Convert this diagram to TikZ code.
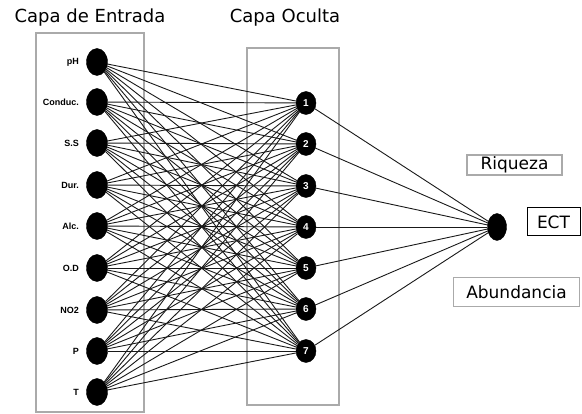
\documentclass[tikz,border=0pt]{standalone}
\usepackage{fontspec}
\setmainfont{DejaVu Sans}
\newfontfamily\labelfont{Liberation Sans}
\usepackage{xcolor}
\usetikzlibrary{shapes.geometric}

\definecolor{boxgray}{RGB}{170,170,170}
\definecolor{linkgray}{RGB}{25,25,25}

\begin{document}
\begin{tikzpicture}[
        x=1pt, y=-1pt,
        inp/.style={draw, ellipse, fill=black, inner sep=0pt, minimum width=21pt, minimum height=27pt},
        hid/.style={draw, ellipse, fill=black, inner sep=0pt, minimum width=20pt, minimum height=23pt, text=white, font=\labelfont\bfseries\fontsize{10}{10}\selectfont},
        inlabel/.style={anchor=east, inner sep=0pt, font=\labelfont\bfseries\fontsize{9}{9}\selectfont},
        layerbox/.style={draw=boxgray, line width=1.2pt},
        tag/.style={draw=boxgray, line width=1.5pt, inner sep=0pt, minimum height=20pt, font=\fontsize{17}{17}\selectfont},
        link/.style={draw=linkgray, line width=0.9pt},
    ]
        \useasboundingbox (0,0) rectangle (582,414);
        % layer boxes and titles
        \draw[layerbox] (36,33) rectangle (144,412);
        \draw[layerbox] (247,48) rectangle (339,405);
        \node[font=\fontsize{18}{18}\selectfont] (tin) at (90,18) {Capa de Entrada};
        \node[font=\fontsize{18}{18}\selectfont] (thid) at (285,18) {Capa Oculta};
        % input layer
        \node[inp] (i1) at (97,62) {};
        \node[inp] (i2) at (97,102) {};
        \node[inp] (i3) at (97,143) {};
        \node[inp] (i4) at (97,185) {};
        \node[inp] (i5) at (97,226) {};
        \node[inp] (i6) at (97,268) {};
        \node[inp] (i7) at (97,310) {};
        \node[inp] (i8) at (97,351) {};
        \node[inp] (i9) at (97,392) {};
        \node[inlabel] (l1) at (79,62) {pH};
        \node[inlabel] (l2) at (79,102) {Conduc.};
        \node[inlabel] (l3) at (79,143) {S.S};
        \node[inlabel] (l4) at (79,185) {Dur.};
        \node[inlabel] (l5) at (79,226) {Alc.};
        \node[inlabel] (l6) at (79,268) {O.D};
        \node[inlabel] (l7) at (79,310) {NO2};
        \node[inlabel] (l8) at (79,351) {P};
        \node[inlabel] (l9) at (79,392) {T};
        % hidden layer
        \node[hid] (h1) at (306,103) {1};
        \node[hid] (h2) at (306,144) {2};
        \node[hid] (h3) at (306,186) {3};
        \node[hid] (h4) at (306,227) {4};
        \node[hid] (h5) at (306,268) {5};
        \node[hid] (h6) at (306,309) {6};
        \node[hid] (h7) at (306,351) {7};
        % output layer
        \node[inp, minimum width=19pt] (o1) at (497,227) {};
        \node[tag, minimum width=95pt] (rq) at (514.5,165) {Riqueza};
        \node[tag, draw=black, line width=1pt, minimum width=53pt, minimum height=28pt] (ect) at (553.5,222) {ECT};
        \node[tag, minimum width=126pt, minimum height=29pt] (ab) at (516.5,292) {Abundancia};
        % links
        \foreach \i in {1,...,9}
            \foreach \j in {1,...,7}
                \draw[link] (i\i) -- (h\j);
        \foreach \j in {1,...,7}
            \draw[link] (h\j) -- (o1);
    \end{tikzpicture}
\end{document}
